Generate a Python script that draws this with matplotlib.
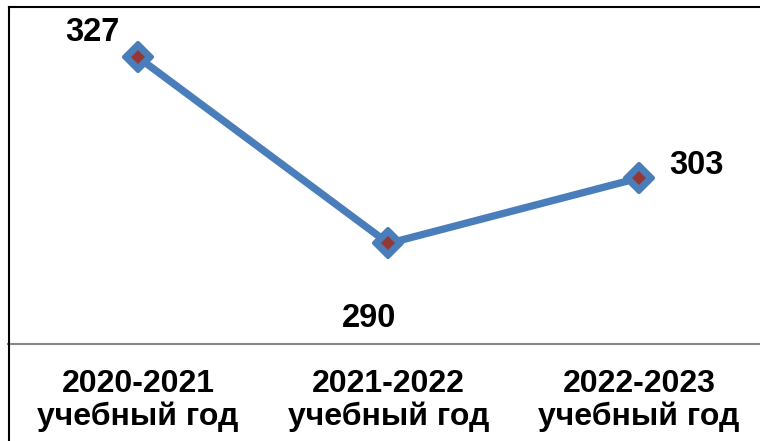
import matplotlib
matplotlib.use("Agg")
import matplotlib.pyplot as plt
from matplotlib.markers import MarkerStyle
from matplotlib.lines import Line2D

plt.rcParams['font.family'] = ['Liberation Sans', 'DejaVu Sans']

categories = ["2020-2021\nучебный год", "2021-2022\nучебный год", "2022-2023\nучебный год"]
values = [327, 290, 303]
label_offsets = [(-33, 18), (-14, -54), (41, 9)]  # points

fig = plt.figure(figsize=(7.6, 4.41), dpi=100)
fig.patch.set_facecolor('white')

W, H = 760, 441
ax = fig.add_axes([8 / W, 97 / H, 762 / W, 337 / H])
ax.set_facecolor('none')

x = list(range(len(values)))
ax.plot(x, values, color='#4A7EBB', linewidth=5.3, solid_joinstyle='round',
        solid_capstyle='round', zorder=2)
ax.plot(x, values, linestyle='none',
        marker=MarkerStyle('D', joinstyle='round'), markersize=14,
        markeredgewidth=3, markeredgecolor='#4A7EBB',
        markerfacecolor='#4A7EBB', zorder=3)
ax.plot(x, values, linestyle='none', marker='D', markersize=7,
        markeredgewidth=0, markerfacecolor='#953735', zorder=4)

for xi, v, off in zip(x, values, label_offsets):
    ax.annotate(str(v), (xi, v), xytext=off, textcoords='offset points',
                ha='center', va='center', fontsize=23.5, fontweight='bold',
                color='black')

ax.set_xlim(-0.519, 2.523)
ax.set_ylim(270, 337)
ax.set_xticks(x)
ax.set_xticklabels(categories, fontsize=23, fontweight='bold', linespacing=1.1)
ax.tick_params(axis='x', length=0, pad=18)
ax.set_yticks([])
for s in ['top', 'right', 'left']:
    ax.spines[s].set_visible(False)
ax.spines['bottom'].set_color('#868686')
ax.spines['bottom'].set_linewidth(1.5)

# chart area border (left and top visible)
fig.add_artist(Line2D([8.5 / W, 8.5 / W], [0, 1 - 7 / H], color='black', linewidth=1.5,
                      transform=fig.transFigure))
fig.add_artist(Line2D([8.5 / W, 1], [1 - 7 / H, 1 - 7 / H], color='black', linewidth=1.5,
                      transform=fig.transFigure))

fig.savefig('out.png', dpi=100, facecolor='white')
